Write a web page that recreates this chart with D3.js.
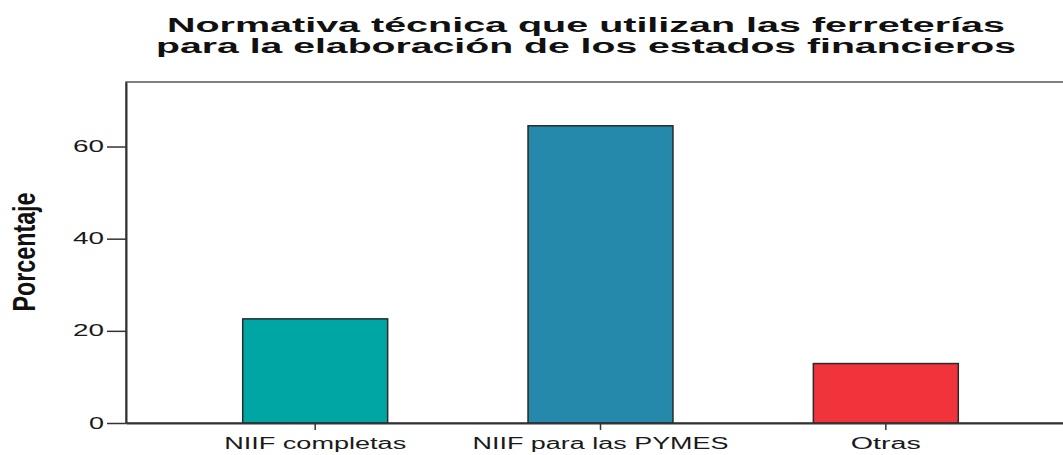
<!DOCTYPE html>
<html>
<head>
<meta charset="utf-8">
<script src="https://cdn.jsdelivr.net/npm/d3@7"></script>
<style>
  body { margin: 0; background: #fff; overflow: hidden; }
  text { font-family: "Liberation Sans", Arial, sans-serif; }
</style>
</head>
<body>
<div id="chart"></div>
<script>
const categories = ['NIIF completas', 'NIIF para las PYMES', 'Otras'];
const values = [22.6, 64.5, 12.9];
const barColors = ['#00a6a3', '#2489aa', '#f1333b'];
const yTicks = [0, 20, 40, 60];
const titleLines = ['Normativa técnica que utilizan las ferreterías',
                    'para la elaboración de los estados financieros'];
const yLabel = 'Porcentaje';

const width = 1063, height = 455;
const margin = { top: 82, left: 126, bottom: 32, right: -12 };

const svg = d3.select('#chart').append('svg')
  .attr('width', width)
  .attr('height', height)
  .style('display', 'block');

const x = d3.scaleBand()
  .domain(categories)
  .range([margin.left, width - margin.right])
  .paddingInner(0.492)
  .paddingOuter(0.409);

const y = d3.scaleLinear()
  .domain([0, 74])
  .range([height - margin.bottom, margin.top]);

// frame
svg.append('rect')
  .attr('x', margin.left)
  .attr('y', margin.top)
  .attr('width', width - margin.right - margin.left)
  .attr('height', y(0) - margin.top)
  .attr('fill', 'none')
  .attr('stroke', '#555')
  .attr('stroke-width', 1.5);

// bars
svg.selectAll('.bar')
  .data(values)
  .join('rect')
  .attr('class', 'bar')
  .attr('x', (d, i) => x(categories[i]))
  .attr('y', d => y(d))
  .attr('width', x.bandwidth())
  .attr('height', d => y(0) - y(d))
  .attr('fill', (d, i) => barColors[i])
  .attr('stroke', '#2a2a2a')
  .attr('stroke-width', 1.5);

// y axis
const yAxis = svg.append('g')
  .attr('transform', `translate(${margin.left},0)`)
  .call(d3.axisLeft(y).tickValues(yTicks).tickSize(19).tickSizeOuter(0).tickPadding(3));
yAxis.select('.domain').attr('stroke', '#333').attr('stroke-width', 2);
yAxis.selectAll('.tick line').attr('stroke', '#333').attr('stroke-width', 1.5);
yAxis.selectAll('.tick text')
  .attr('font-size', 16)
  .attr('fill', '#1a1a1a')
  .attr('textLength', d => d === 0 ? 15 : 31)
  .attr('lengthAdjust', 'spacingAndGlyphs');

// x axis
const xLabelLen = [182, 256, 70];
const xAxis = svg.append('g')
  .attr('transform', `translate(0,${y(0)})`)
  .call(d3.axisBottom(x).tickSize(7).tickSizeOuter(0).tickPadding(8));
xAxis.select('.domain').attr('stroke', '#333').attr('stroke-width', 2);
xAxis.selectAll('.tick line').attr('stroke', '#333').attr('stroke-width', 1.5);
xAxis.selectAll('.tick text')
  .attr('font-size', 16)
  .attr('fill', '#1a1a1a')
  .attr('textLength', (d, i) => xLabelLen[i])
  .attr('lengthAdjust', 'spacingAndGlyphs');

// y label
svg.append('text')
  .attr('transform', 'translate(35,252) rotate(-90) scale(1,1.45)')
  .attr('text-anchor', 'middle')
  .attr('font-size', 22)
  .attr('font-weight', 'bold')
  .attr('fill', '#111')
  .attr('textLength', 119)
  .attr('lengthAdjust', 'spacingAndGlyphs')
  .text(yLabel);

// title
const titleLen = [838, 860];
svg.selectAll('.title')
  .data(titleLines)
  .join('text')
  .attr('class', 'title')
  .attr('x', 586)
  .attr('y', (d, i) => 32 + i * 21)
  .attr('text-anchor', 'middle')
  .attr('font-size', 20)
  .attr('font-weight', 'bold')
  .attr('fill', '#111')
  .attr('textLength', (d, i) => titleLen[i])
  .attr('lengthAdjust', 'spacingAndGlyphs')
  .text(d => d);
</script>
</body>
</html>
